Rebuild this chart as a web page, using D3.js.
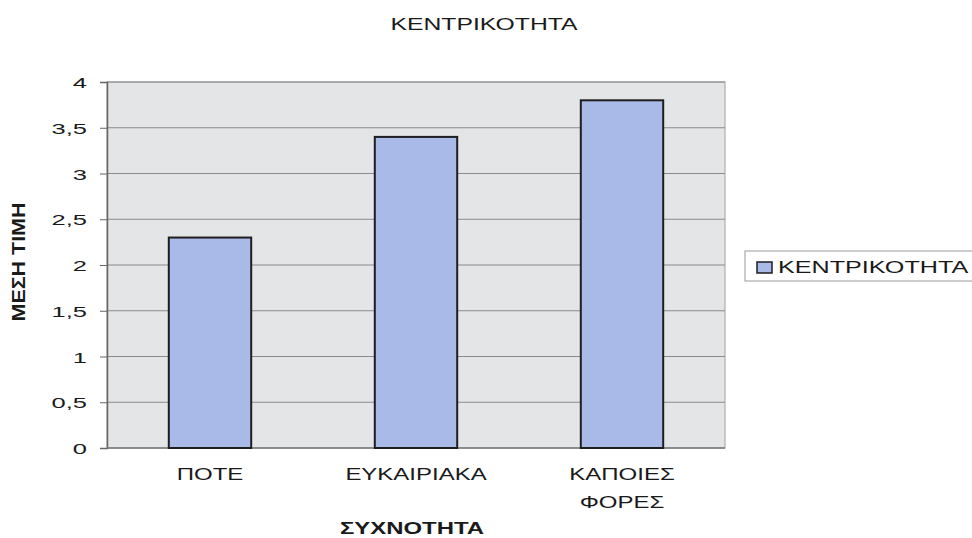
<!DOCTYPE html>
<html><head><meta charset="utf-8">
<script src="https://cdn.jsdelivr.net/npm/d3@7"></script>
<style>body{margin:0;background:#fff}svg{display:block}text{font-family:"Liberation Sans",Arial,sans-serif;fill:#1a1a1a}</style>
</head><body><svg id="c" width="972" height="538"></svg>
<script>
const categories = [["ΠΟΤΕ"], ["ΕΥΚΑΙΡΙΑΚΑ"], ["ΚΑΠΟΙΕΣ", "ΦΟΡΕΣ"]];
const values = [2.3, 3.4, 3.8];
const yTicks = [0, 0.5, 1, 1.5, 2, 2.5, 3, 3.5, 4];
const seriesName = "ΚΕΝΤΡΙΚΟΤΗΤΑ";
const chartTitle = "ΚΕΝΤΡΙΚΟΤΗΤΑ";
const xTitle = "ΣΥΧΝΟΤΗΤΑ";
const yTitle = "ΜΕΣΗ ΤΙΜΗ";

const svg = d3.select("#c");
const L = 107, R = 725, T = 82, B = 448;
const x = d3.scaleBand().domain(d3.range(categories.length)).range([L, R]).paddingInner(0.6).paddingOuter(0.3);
const y = d3.scaleLinear().domain([0, 4]).range([B, T]);
const fmt = d => String(d).replace(".", ",");

// stretched text helper (reference is horizontally stretched)
function stext(parent, tx, ty, str, size, sx, anchor, bold) {
  return parent.append("text").attr("transform", `translate(${tx},${ty}) scale(${sx},1)`)
    .attr("text-anchor", anchor).attr("font-size", size)
    .attr("font-weight", bold ? "bold" : "normal").text(str);
}

svg.append("rect").attr("x", L).attr("y", T).attr("width", R - L).attr("height", B - T)
  .attr("fill", "#e4e5e6").attr("stroke", "#a0a0a0").attr("stroke-width", 1);

svg.append("g").selectAll("line").data(yTicks.slice(1)).join("line")
  .attr("x1", L).attr("x2", R).attr("y1", d => y(d)).attr("y2", d => y(d))
  .attr("stroke", "#8a8a8a").attr("stroke-width", 1.2);

const ya = svg.append("g").attr("transform", `translate(${L},0)`)
  .call(d3.axisLeft(y).tickValues(yTicks).tickFormat("").tickSize(7));
ya.select(".domain").attr("stroke", "#666").attr("stroke-width", 1.5);
ya.selectAll(".tick line").attr("stroke", "#666");
ya.selectAll(".tick").each(function (d) {
  stext(d3.select(this), -20, 5.5, fmt(d), 15, 1.7, "end", false);
});

svg.append("line").attr("x1", L).attr("x2", R).attr("y1", B).attr("y2", B).attr("stroke", "#777").attr("stroke-width", 1.5);

svg.append("g").selectAll("rect").data(values).join("rect")
  .attr("x", (d, i) => x(i)).attr("width", x.bandwidth())
  .attr("y", d => y(d)).attr("height", d => B - y(d))
  .attr("fill", "#a9b9e8").attr("stroke", "#1e1e1e").attr("stroke-width", 2);

categories.forEach((lines, i) => {
  lines.forEach((s, j) => {
    stext(svg, x(i) + x.bandwidth() / 2, 480 + j * 28, s, 16, 1.5, "middle", false);
  });
});

stext(svg, 484, 30, chartTitle, 16.5, 1.5, "middle", false);
stext(svg, 412, 534, xTitle, 16.5, 1.45, "middle", true);
svg.append("text").attr("transform", "translate(25,262) rotate(-90) scale(1.65,1.35)")
  .attr("text-anchor", "middle").attr("font-size", 13).attr("font-weight", "bold").text(yTitle);

const lg = svg.append("g");
lg.append("rect").attr("x", 745).attr("y", 251).attr("width", 230).attr("height", 30).attr("fill", "#fff").attr("stroke", "#9a9a9a");
lg.append("rect").attr("x", 757).attr("y", 262).attr("width", 15).attr("height", 11).attr("fill", "#a9b9e8").attr("stroke", "#1e1e1e").attr("stroke-width", 1.5);
stext(lg, 778, 273, seriesName, 17, 1.48, "start", false);
</script></body></html>
